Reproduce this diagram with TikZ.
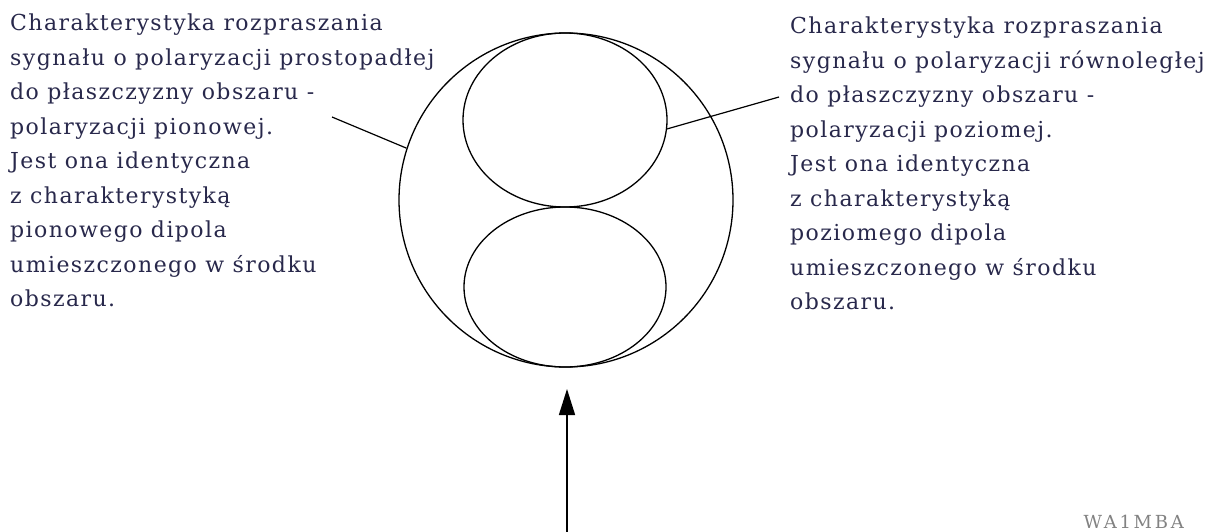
\documentclass[tikz,border=0pt]{standalone}
\usepackage{fontspec}
\setmainfont[LetterSpace=6.5]{DejaVu Serif}
\newfontfamily\wmfont[LetterSpace=15]{DejaVu Serif}
\usetikzlibrary{shapes.geometric,arrows.meta}
\definecolor{txtcol}{RGB}{40,40,75}
\definecolor{wmcol}{RGB}{130,130,130}
\tikzset{
  lbl/.style={anchor=base west, inner sep=0pt, text=txtcol, font=\fontsize{22}{34.5}\selectfont},
  shp/.style={draw=black, line width=1.3pt, inner sep=0pt},
  lead/.style={draw=black, line width=1.2pt},
}
\begin{document}
\begin{tikzpicture}[x=1pt,y=-1pt]
\useasboundingbox (0,0) rectangle (1208,532);
\node[lbl] (ltext) at (10,31) {\parbox[t]{440pt}{\raggedright
Charakterystyka rozpraszania\\
sygnału o polaryzacji prostopadłej\\
do płaszczyzny obszaru -\\
polaryzacji pionowej.\\
Jest ona identyczna\\
z charakterystyką\\
pionowego dipola\\
umieszczonego w środku\\
obszaru.}};
\node[lbl] (rtext) at (790,34) {\parbox[t]{440pt}{\raggedright
Charakterystyka rozpraszania\\
sygnału o polaryzacji równoległej\\
do płaszczyzny obszaru -\\
polaryzacji poziomej.\\
Jest ona identyczna\\
z charakterystyką\\
poziomego dipola\\
umieszczonego w środku\\
obszaru.}};
\node[shp, circle, minimum size=334pt] (outer) at (566,200) {};
\node[shp, ellipse, minimum width=204pt, minimum height=174pt] (topel) at (565,120) {};
\node[shp, ellipse, minimum width=202pt, minimum height=160pt] (botel) at (565,287) {};
\coordinate (lend) at (332,117);
\coordinate (rend) at (779,97);
\draw[lead] (lend) -- (outer.162.6);
\draw[lead] (topel.-5) -- (rend);
\coordinate (abot) at (567,532);
\coordinate (atip) at (567,389);
\draw[line width=1.5pt, -{Triangle[length=26pt,width=16pt]}] (abot) -- (atip);
\node[anchor=base east, inner sep=0pt, text=wmcol, font=\wmfont\fontsize{18}{22}\selectfont] (wm) at (1184,528) {WA1MBA};
\end{tikzpicture}
\end{document}
